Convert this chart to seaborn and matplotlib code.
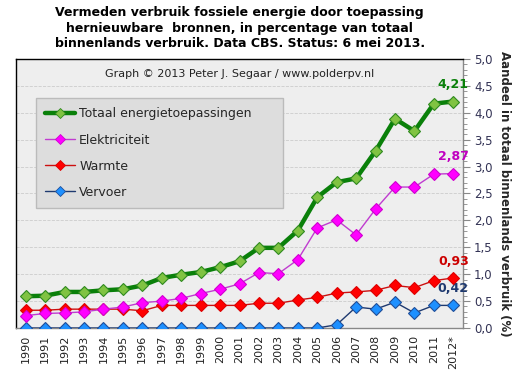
import numpy as np
import pandas as pd
import matplotlib
matplotlib.use("Agg")
import matplotlib.pyplot as plt
from matplotlib.ticker import MultipleLocator, FuncFormatter
import seaborn as sns

# jaren en waarden (aandeel in %)
jaren = ["1990", "1991", "1992", "1993", "1994", "1995", "1996", "1997", "1998",
         "1999", "2000", "2001", "2002", "2003", "2004", "2005", "2006", "2007",
         "2008", "2009", "2010", "2011", "2012*"]
totaal = [0.59, 0.60, 0.67, 0.67, 0.70, 0.72, 0.79, 0.93, 0.99, 1.04, 1.13, 1.24,
          1.49, 1.49, 1.81, 2.43, 2.71, 2.78, 3.29, 3.89, 3.66, 4.17, 4.21]
elektriciteit = [0.23, 0.27, 0.28, 0.30, 0.35, 0.39, 0.47, 0.50, 0.55, 0.64, 0.72, 0.82,
                 1.03, 1.01, 1.27, 1.86, 2.01, 1.73, 2.21, 2.62, 2.62, 2.86, 2.87]
warmte = [0.33, 0.33, 0.35, 0.35, 0.35, 0.35, 0.32, 0.42, 0.42, 0.42, 0.42, 0.42,
          0.46, 0.46, 0.52, 0.57, 0.65, 0.67, 0.70, 0.79, 0.75, 0.88, 0.93]
vervoer = [0, 0, 0, 0, 0, 0, 0, 0, 0, 0, 0, 0,
           0, 0, 0, 0, 0.06, 0.39, 0.35, 0.48, 0.28, 0.42, 0.42]

labels = ["Totaal energietoepassingen", "Elektriciteit", "Warmte", "Vervoer"]
eindwaarden = ["4,21", "2,87", "0,93", "0,42"]

sns.set_style("white", {"axes.facecolor": "#eeeeee"})
plt.rcParams['font.family'] = ['DejaVu Sans']

fig = plt.figure(figsize=(5.21, 3.79), dpi=100)
ax = fig.add_axes([0.0307, 0.1346, 0.8580, 0.7097])
ax.set_facecolor("#eeeeee")

x = np.arange(len(jaren))
series = [totaal, elektriciteit, warmte, vervoer]
stijl = [
    dict(color="#0a800a", lw=3.2, mfc="#80c342", mec="#2f8a1f", ms=6.5, tc="#0a800a"),
    dict(color="#c03cd0", lw=1.0, mfc="#ff00ff", mec="#d000d0", ms=6, tc="#c000c0"),
    dict(color="#cc1010", lw=1.0, mfc="#ff0000", mec="#dd0000", ms=6, tc="#cc0000"),
    dict(color="#1f3a70", lw=1.0, mfc="#1e90ff", mec="#1f4e99", ms=6, tc="#1f3a70"),
]

handles = []
for i in [3, 1, 2, 0]:
    s = stijl[i]
    df = pd.DataFrame({"x": x, "y": series[i]})
    sns.lineplot(data=df, x="x", y="y", ax=ax, color=s["color"], lw=s["lw"],
                 marker="D", markersize=s["ms"], markerfacecolor=s["mfc"],
                 markeredgecolor=s["mec"], markeredgewidth=0.8, zorder=3 + (3 - i))

for i in range(4):
    s = stijl[i]
    h, = ax.plot([], [], color=s["color"], lw=s["lw"], marker="D", markersize=5.5,
                 markerfacecolor=s["mfc"], markeredgecolor=s["mec"], markeredgewidth=0.6)
    handles.append(h)
    ax.annotate(eindwaarden[i], xy=(x[-1], series[i][-1]), xytext=(0, 12),
                textcoords="offset points", ha="center", va="center",
                fontsize=9, fontweight="bold", color=s["tc"])

ax.set_xlim(-0.5, len(jaren) - 0.5)
ax.set_ylim(0, 5.0)
ax.set_xlabel("")
ax.set_ylabel("")

ax.set_xticks(x)
ax.set_xticklabels(jaren, rotation=90, fontsize=8)
ax.set_xticks(np.arange(-0.5, len(jaren), 1), minor=True)
ax.tick_params(axis="x", which="major", length=0, pad=5, colors="#222222")
ax.tick_params(axis="x", which="minor", length=4, color="#888888", direction="out")

ax.yaxis.tick_right()
ax.yaxis.set_label_position("right")
ax.yaxis.set_major_locator(MultipleLocator(0.5))
ax.yaxis.set_minor_locator(MultipleLocator(0.1))
ax.yaxis.set_major_formatter(FuncFormatter(lambda v, p: f"{v:.1f}".replace(".", ",")))
ax.tick_params(axis="y", which="major", length=5, color="#888888", labelsize=8.5,
               labelcolor="#333355", pad=3)
ax.tick_params(axis="y", which="minor", length=3, color="#888888")
ax.set_ylabel("Aandeel in totaal binnenlands verbruik (%)", rotation=270,
              fontsize=8.5, fontweight="bold", labelpad=13)

ax.grid(axis="y", color="#cccccc", ls="--", lw=0.6)
ax.set_axisbelow(True)
ax.spines["left"].set_color("black")
ax.spines["top"].set_color("black")
ax.spines["right"].set_color("#888888")
ax.spines["bottom"].set_color("#888888")
for sp in ax.spines.values():
    sp.set_linewidth(1)

leg = ax.legend(handles, labels, loc="upper left", bbox_to_anchor=(0.045, 0.855, 0.553, 0.0),
                mode="expand", borderaxespad=0, fontsize=9, labelspacing=1.05,
                handlelength=2.4, handletextpad=0.3, borderpad=0.75,
                frameon=True, fancybox=False, facecolor="#dddddd", edgecolor="#bbbbbb")
leg.get_frame().set_alpha(1)

ax.text(0.5, 0.945, "Graph \u00a9 2013 Peter J. Segaar / www.polderpv.nl",
        transform=ax.transAxes, ha="center", va="center", fontsize=8, color="#222222")

fig.text(0.46, 0.925,
         "Vermeden verbruik fossiele energie door toepassing\n"
         "hernieuwbare  bronnen, in percentage van totaal\n"
         "binnenlands verbruik. Data CBS. Status: 6 mei 2013.",
         ha="center", va="center", fontsize=9, fontweight="bold", linespacing=1.25,
         color="black")

fig.savefig("out.png", dpi=100, facecolor="white")
